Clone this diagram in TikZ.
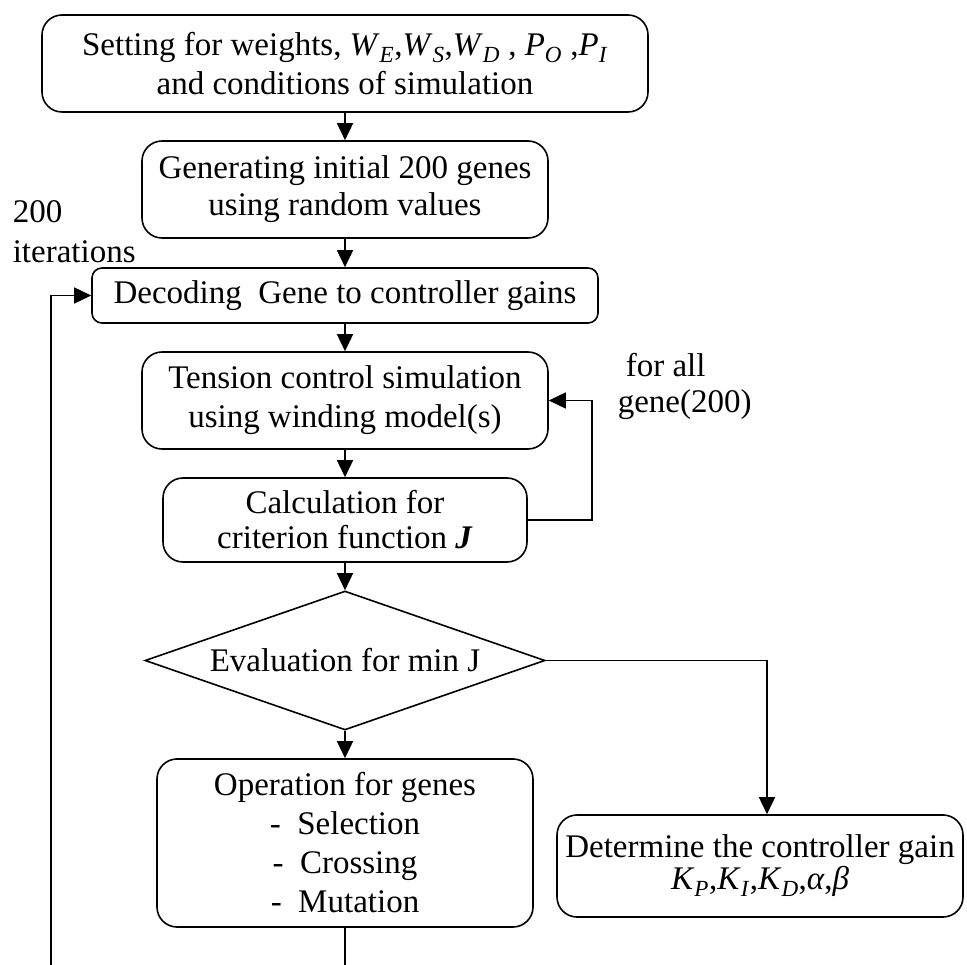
\documentclass[tikz,border=0pt]{standalone}
\usepackage{fontspec}
\setmainfont{Liberation Serif}
\usetikzlibrary{shapes.geometric,arrows.meta,calc}
\newcommand\iv[2]{\textit{#1}\textsubscript{\textit{#2}}}
\begin{document}
\begin{tikzpicture}[x=1pt,y=-1pt,
  font=\fontsize{33}{36}\selectfont,
  line width=1.6pt,
  box/.style={draw, rounded corners=20pt, align=center, inner sep=0pt},
  arr/.style={-{Triangle[width=16pt,length=17pt]}},
  lbl/.style={anchor=base west, inner sep=0pt}]
\useasboundingbox (0,0) rectangle (967,965);

\node[box, minimum width=606pt, minimum height=97pt, font=\fontsize{33}{39}\selectfont] (top) at (345,63.5)
  {Setting for weights, \iv{W}{E},\iv{W}{S},\iv{W}{D} , \iv{P}{O} ,\iv{P}{I}\\and conditions of simulation};
\node[box, minimum width=406pt, minimum height=97pt, font=\fontsize{33}{37}\selectfont] (gen) at (345,189.5)
  {Generating initial 200 genes\\using random values};
\node[box, rounded corners=10pt, minimum width=506pt, minimum height=55pt] (dec) at (345,295.5)
  {Decoding\ \ Gene to controller gains};
\node[box, minimum width=406pt, minimum height=97pt, font=\fontsize{33}{39}\selectfont] (sim) at (345,400.5)
  {Tension control simulation\\using winding model(s)};
\node[box, minimum width=364pt, minimum height=84pt, font=\fontsize{33}{35}\selectfont] (calc) at (345,520)
  {Calculation for\\criterion function \textbf{\textit{J}}};
\node[draw, diamond, aspect=2.88, inner sep=0pt, minimum width=400pt, minimum height=139pt] (dia) at (345,660.5)
  {Evaluation for min J};
\node[box, minimum width=376pt, minimum height=168pt, font=\fontsize{33}{39}\selectfont] (ops) at (345,843)
  {Operation for genes\\-\ \ Selection\\-\ \ Crossing\\-\ \ Mutation};
\node[box, minimum width=406pt, minimum height=102pt, font=\fontsize{33}{32}\selectfont] (res) at (760,866)
  {Determine the controller gain\\\iv{K}{P},\iv{K}{I},\iv{K}{D},\textit{α},\textit{β}};

\node[lbl] (l200) at (12,223) {200};
\node[lbl] (literations) at (12,263) {iterations};
\node[lbl] (lforall) at (625,377) {for all};
\node[lbl] (lgene) at (617,413) {gene(200)};

\coordinate (loopbot) at (51,965);
\coordinate (opsbot) at (345,965);

\draw[arr] (top) -- (gen);
\draw[arr] (gen) -- (dec);
\draw[arr] (dec) -- (sim);
\draw[arr] (sim) -- (calc);
\draw[arr] (calc) -- (dia);
\draw[arr] (dia) -- (ops);
\draw[arr] (dia.east) -| ([xshift=7pt]res.north);
\draw[arr] (calc.east) -- ++(64,0) |- (sim.east);
\draw[arr] (loopbot) |- (dec.west);
\draw (ops) -- (opsbot);
\end{tikzpicture}
\end{document}
